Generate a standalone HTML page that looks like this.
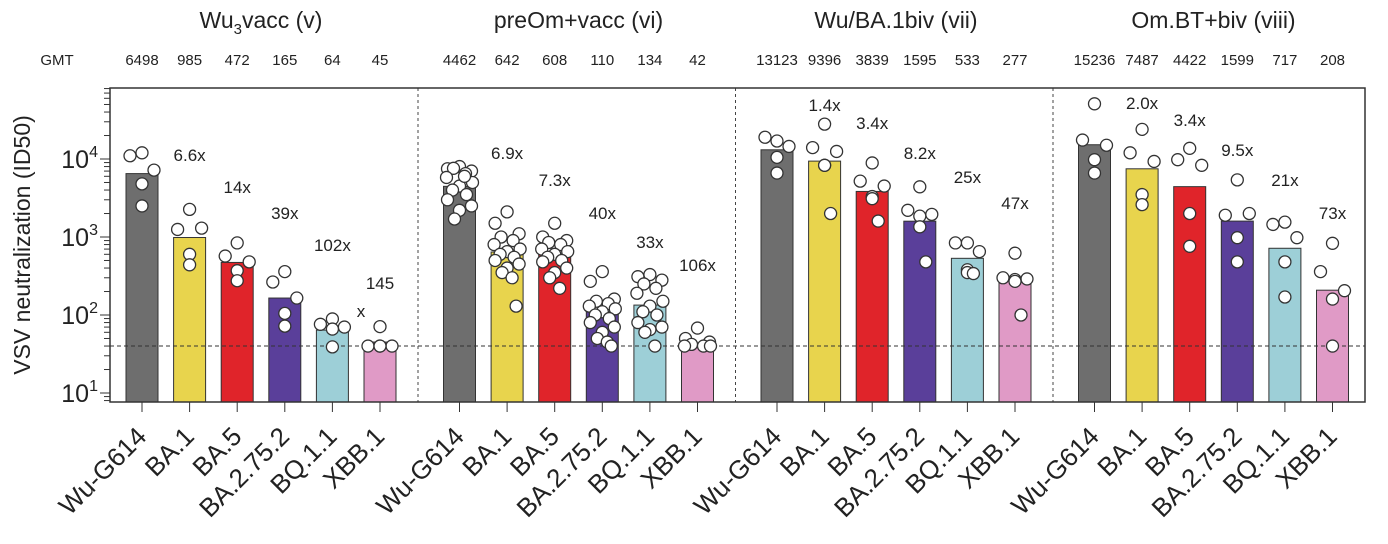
<!DOCTYPE html>
<html><head><meta charset="utf-8"><style>
body{margin:0;background:#fff}
svg{display:block;font-family:"Liberation Sans",Arial,sans-serif}
</style></head><body>
<svg id="chart" width="1388" height="544" viewBox="0 0 1388 544" xmlns="http://www.w3.org/2000/svg">
<rect width="1388" height="544" fill="#fff"/>
<g id="g"></g>
</svg>
<script>
const panels = ["Wu3vacc (v)","preOm+vacc (vi)","Wu/BA.1biv (vii)","Om.BT+biv (viii)"];
const categories = ["Wu-G614","BA.1","BA.5","BA.2.75.2","BQ.1.1","XBB.1"];
const gmt = [[6498,985,472,165,64,45],[4462,642,608,110,134,42],[13123,9396,3839,1595,533,277],[15236,7487,4422,1599,717,208]];
const folds = [["","6.6x","14x","39x","102x","145"],["","6.9x","7.3x","40x","33x","106x"],["","1.4x","3.4x","8.2x","25x","47x"],["","2.0x","3.4x","9.5x","21x","73x"]];
const foldY = [[0,155,187,213,245,283],[0,153,180,213,242,265],[0,105,123,153,177,203],[0,103,120,150,180,213]];
const dots = [
 [[12000,11000,7200,4800,2500],[2260,1250,1300,600,440],[840,570,480,370,275],[360,265,165,105,72],[89,76,70,66,39],[71,40,40,40,40]],
 [[8000,7500,7000,7600,6500,5800,5000,4500,4000,3500,3000,2500,2200,1700,6000],[2100,1500,1100,1000,900,800,700,650,600,550,500,450,400,350,300,130],[1500,1000,900,850,800,700,650,600,550,500,480,400,350,300,220],[360,270,160,150,140,130,120,110,100,90,80,70,60,50,45,40],[330,310,280,250,220,190,150,130,110,100,80,70,65,60,40],[68,50,45,42,40,40,40]],
 [[17000,19000,14500,10500,6600],[28000,14000,12500,8300,8300,2000],[8900,5200,4500,3300,3100,1600],[4400,2200,1950,1850,1350,480],[840,840,650,380,350,340],[620,300,290,285,270,100]],
 [[51000,17500,15000,9800,6600],[24000,12000,9300,3500,2600],[13700,9800,8300,2000,760],[5400,1900,2000,980,480],[1550,1450,980,480,170],[830,360,205,160,40]]
];
const yTicks = [1,2,3,4];
const threshold = 40;
const colors = ["#6e6e6e","#e8d44d","#e0242a","#5a3f9a","#9dcfd7","#e09ac6"];

const NS="http://www.w3.org/2000/svg";
const g=document.getElementById('g');
const X0=110,X1=1365,Y0=88,YB=402;
function y(v){return 393-(Math.log10(v)-1)*78;}
function bx(p,i){return 142+p*317.5+i*47.6;}
function mk(tag,attrs,parent){const e=document.createElementNS(NS,tag);for(const k in attrs)e.setAttribute(k,attrs[k]);(parent||g).appendChild(e);return e;}

gmt.forEach((arr,p)=>arr.forEach((v,i)=>{
  const x=bx(p,i);
  const r=mk('rect',{x:x-16,y:y(v),width:32,height:YB-y(v),fill:colors[i],stroke:"#333","stroke-width":1});
  
  
}));
const th=mk('line',{x1:X0,x2:X1,y1:y(threshold),y2:y(threshold),stroke:"#333","stroke-width":1,"stroke-dasharray":"4,3"});


[1,2,3].forEach(k=>{
  const d=mk('line',{x1:X0+k*317.5-9.5,x2:X0+k*317.5-9.5,y1:Y0,y2:YB,stroke:"#444","stroke-width":1,"stroke-dasharray":"3,3"});
  
  
});
const offs=[0,-12,12,-6,6,-13,13,0,-7,7,-12,12,0,-5,5,9,-9];
dots.forEach((pa,p)=>pa.forEach((arr,i)=>{
  const n=arr.length;
  arr.forEach((v,j)=>{
    const o = n<=6 ? [0,-12,12,0,0,6][j] : offs[j];
    const c=mk('circle',{cx:bx(p,i)+o,cy:y(v),r:6,fill:"#fff",stroke:"#333","stroke-width":1.3});
    
    
  });
}));
const fr=mk('rect',{x:X0,y:Y0,width:X1-X0,height:YB-Y0,fill:"none",stroke:"#333","stroke-width":1.5});


for(let e=0;e<=4;e++){for(let m=1;m<10;m++){const v=m*Math.pow(10,e);if(v<8||v>82000)continue;
  const yy=y(v);const major=m===1;
  mk('line',{x1:major?100:104,x2:X0,y1:yy,y2:yy,stroke:"#333","stroke-width":1});}}
yTicks.forEach(t=>{
  const tx=mk('text',{x:98,y:y(Math.pow(10,t))+9,"text-anchor":"end","font-size":25,fill:"#222"});
  
  
  tx.innerHTML='10<tspan font-size="16" dy="-11">'+t+'</tspan>';
});
const yl=mk('text',{x:0,y:0,transform:"translate(30,245) rotate(-90)","text-anchor":"middle","font-size":23,fill:"#222"});
yl.textContent="VSV neutralization (ID50)";


gmt.forEach((arr,p)=>arr.forEach((v,i)=>{
  const x=bx(p,i);
  mk('line',{x1:x,x2:x,y1:YB,y2:412,stroke:"#333","stroke-width":1});
  const t=mk('text',{x:0,y:0,transform:`translate(${x+6},438) rotate(-45)`,"text-anchor":"end","font-size":26,fill:"#222"});
  t.textContent=categories[i];
  
  
  const gt=mk('text',{x:x,y:65,"text-anchor":"middle","font-size":15,fill:"#222"});
  gt.textContent=v;
  
  
  if(folds[p][i]){
    const f=mk('text',{x:x,y:foldY[p][i]+6,"text-anchor":"middle","font-size":17,fill:"#222"});
    f.textContent=folds[p][i];
    
    
  }
}));
const xl=mk('text',{x:bx(0,5)-19,y:317,"text-anchor":"middle","font-size":17,fill:"#222"});
xl.textContent="x";


const gl=mk('text',{x:57,y:65,"text-anchor":"middle","font-size":15,fill:"#222"});
gl.textContent="GMT";


panels.forEach((name,p)=>{
  const cx=(bx(p,0)+bx(p,5))/2;
  const t=mk('text',{x:cx,y:28,"text-anchor":"middle","font-size":23,fill:"#222"});
  if(p===0){t.innerHTML='Wu<tspan font-size="15" dy="6">3</tspan><tspan dy="-6">vacc (v)</tspan>';}
  else t.textContent=name;
  
  
});
</script>
</body></html>
